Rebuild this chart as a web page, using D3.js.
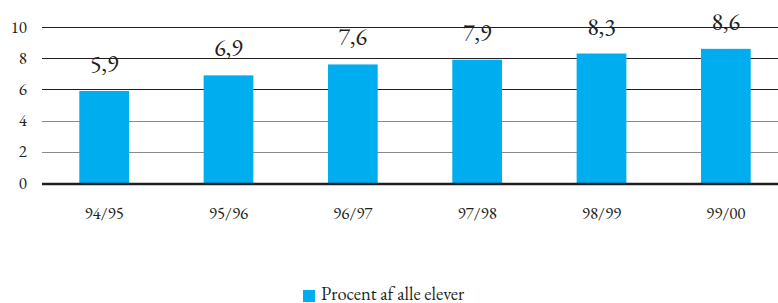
<!DOCTYPE html>
<html>
<head>
<meta charset="utf-8">
<script src="https://cdn.jsdelivr.net/npm/d3@7"></script>
<style>
  body { margin: 0; background: #fff; }
  svg { display: block; }
</style>
</head>
<body>
<svg id="chart" width="778" height="303"></svg>
<script>
// chart data
const years = ["94/95", "95/96", "96/97", "97/98", "98/99", "99/00"];
const procent = [5.9, 6.9, 7.6, 7.9, 8.3, 8.6];
const yTicks = [0, 2, 4, 6, 8, 10];
const seriesName = "Procent af alle elever";

const serif = "\"EB Garamond\", \"Liberation Serif\", serif";
const ink = "#231f20";

const svg = d3.select("#chart");

const x = d3.scaleBand()
    .domain(years)
    .range([42, 788])
    .paddingInner(0.6)
    .paddingOuter(0.3);

const y = d3.scaleLinear()
    .domain([0, 10])
    .range([183, 27]);

// small helper so every label gets the same font setup
function label(sel, size) {
    return sel.style("font-family", serif)
        .style("font-size", size + "px")
        .style("font-variant-numeric", "lining-nums")
        .style("fill", ink);
}

// grid lines (upper ones are darker in the original)
svg.append("g")
    .selectAll("line")
    .data(yTicks.filter(d => d > 0))
    .enter().append("line")
    .attr("x1", 42)
    .attr("x2", 778)
    .attr("y1", d => Math.round(y(d)) + 0.5)
    .attr("y2", d => Math.round(y(d)) + 0.5)
    .style("stroke", d => d >= 6 ? ink : "#8a8a8a")
    .style("stroke-width", 1.2);

// y tick labels
label(svg.append("g")
    .selectAll("text")
    .data(yTicks)
    .enter().append("text")
    .attr("x", 27)
    .attr("y", d => y(d) + 5.5)
    .attr("text-anchor", "end")
    .text(d => d), 17);

// bars
svg.append("g")
    .selectAll("rect")
    .data(procent)
    .enter().append("rect")
    .attr("x", (d, i) => x(years[i]))
    .attr("width", x.bandwidth())
    .attr("y", d => y(d))
    .attr("height", d => y(0) - y(d))
    .style("fill", "#00adef");

// value labels
label(svg.append("g")
    .selectAll("text")
    .data(procent)
    .enter().append("text")
    .attr("x", (d, i) => x(years[i]) + x.bandwidth() / 2)
    .attr("y", d => y(d) - 19)
    .attr("text-anchor", "middle")
    .text(d => d.toFixed(1).replace(".", ",")), 24);

// baseline
svg.append("line")
    .attr("x1", 42)
    .attr("x2", 778)
    .attr("y1", y(0) + 1)
    .attr("y2", y(0) + 1)
    .style("stroke", ink)
    .style("stroke-width", 2.5);

// x labels
label(svg.append("g")
    .selectAll("text")
    .data(years)
    .enter().append("text")
    .attr("x", d => x(d) + x.bandwidth() / 2)
    .attr("y", 219)
    .attr("text-anchor", "middle")
    .text(d => d), 17);

// legend
const legend = svg.append("g");
legend.append("rect")
    .attr("x", 303)
    .attr("y", 290)
    .attr("width", 12)
    .attr("height", 12)
    .style("fill", "#00adef");
label(legend.append("text")
    .attr("x", 321)
    .attr("y", 300)
    .text(seriesName), 18.5);
</script>
</body>
</html>
